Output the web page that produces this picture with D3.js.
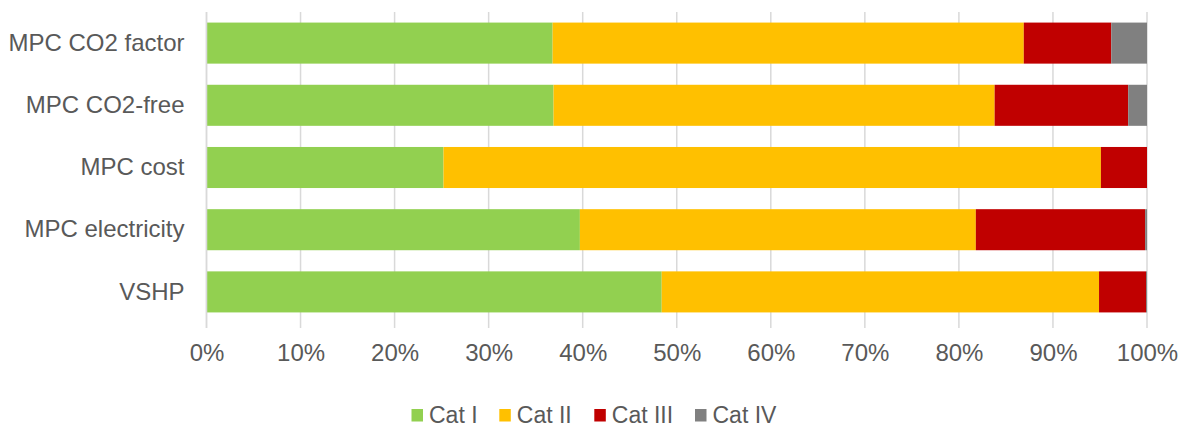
<!DOCTYPE html>
<html>
<head>
<meta charset="utf-8">
<script src="https://cdn.jsdelivr.net/npm/d3@7"></script>
<style>
  html, body { margin: 0; padding: 0; background: #fff; }
  svg { display: block; font-family: "Liberation Sans", Arial, sans-serif; }
</style>
</head>
<body>
<svg id="chart" width="1186" height="427"></svg>
<script>
// Categories (top to bottom) and the share of each class per strategy
const categories = ["MPC CO2 factor", "MPC CO2-free", "MPC cost", "MPC electricity", "VSHP"];
const seriesNames = ["Cat I", "Cat II", "Cat III", "Cat IV"];
const catI   = [36.8, 36.9, 25.2, 39.7, 48.4];
const catII  = [50.1, 46.9, 69.9, 42.1, 46.5];
const catIII = [9.3, 14.2, 4.9, 18.0, 5.0];
const catIV  = [3.8, 2.0, 0.0, 0.2, 0.1];
const tickValues = [0, 0.1, 0.2, 0.3, 0.4, 0.5, 0.6, 0.7, 0.8, 0.9, 1.0];
const colors = ["#92D050", "#FFC000", "#C00000", "#808080"];

const rows = categories.map((c, i) => ({
  category: c,
  "Cat I": catI[i], "Cat II": catII[i], "Cat III": catIII[i], "Cat IV": catIV[i]
}));
// normalise each row to a 100% share
rows.forEach(r => {
  const tot = seriesNames.reduce((s, k) => s + r[k], 0);
  seriesNames.forEach(k => r[k] = r[k] / tot);
});

const svg = d3.select("#chart");
const margin = { left: 206.5, right: 39, top: 12, bottom: 104 };
const width = 1186, height = 427;
const textColor = "#595959";
const fontFamily = '"Liberation Sans", Arial, sans-serif';

const x = d3.scaleLinear().domain([0, 1]).range([margin.left, width - margin.right]);
const y = d3.scaleBand().domain(categories)
  .range([margin.top, height - margin.bottom]).paddingInner(0.34).paddingOuter(0.17);

// vertical gridlines with short tick marks below the plot
svg.append("g").selectAll("line").data(tickValues).join("line")
  .attr("x1", d => x(d)).attr("x2", d => x(d))
  .attr("y1", margin.top).attr("y2", height - margin.bottom + 5)
  .attr("stroke", "#D9D9D9").attr("stroke-width", 1.5);

// stacked bars
const stack = d3.stack().keys(seriesNames)(rows);
const color = d3.scaleOrdinal().domain(seriesNames).range(colors);
svg.append("g").selectAll("g").data(stack).join("g")
  .attr("fill", d => color(d.key))
  .selectAll("rect").data(d => d).join("rect")
  .attr("x", d => x(d[0]))
  .attr("width", d => Math.max(0, x(d[1]) - x(d[0])))
  .attr("y", d => y(d.data.category))
  .attr("height", y.bandwidth());

// x axis labels
const xAxis = d3.axisBottom(x).tickValues(tickValues).tickFormat(d3.format(".0%")).tickSize(0).tickPadding(21);
const gx = svg.append("g").attr("transform", `translate(0,${height - margin.bottom})`).call(xAxis);
gx.select(".domain").remove();
gx.selectAll("text").attr("fill", textColor).style("font-size", "24px").style("font-family", fontFamily);

// category labels
const yAxis = d3.axisLeft(y).tickSize(0).tickPadding(22);
const gy = svg.append("g").attr("transform", `translate(${margin.left},0)`).call(yAxis);
gy.select(".domain").remove();
gy.selectAll("text").attr("fill", textColor).style("font-size", "24px").style("font-family", fontFamily);

// y axis line
svg.append("line")
  .attr("x1", margin.left).attr("x2", margin.left)
  .attr("y1", margin.top).attr("y2", height - margin.bottom + 5)
  .attr("stroke", "#D9D9D9").attr("stroke-width", 1.5);

// legend
const legendX = [411.5, 499.3, 594.3, 695];
const legend = svg.append("g").selectAll("g").data(seriesNames).join("g")
  .attr("transform", (d, i) => `translate(${legendX[i]},0)`);
legend.append("rect").attr("y", 409).attr("width", 11.5).attr("height", 12.5).attr("fill", d => color(d));
legend.append("text").attr("x", 17.5).attr("y", 423.3)
  .attr("fill", textColor).style("font-size", "23px").style("font-family", fontFamily).text(d => d);
</script>
</body>
</html>
